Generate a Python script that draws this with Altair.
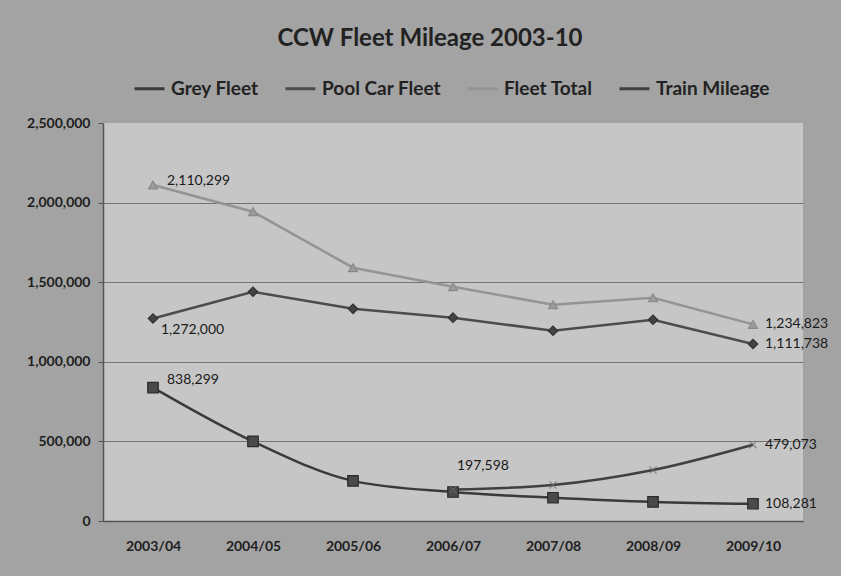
import altair as alt
import pandas as pd

years = ["2003/04", "2004/05", "2005/06", "2006/07", "2007/08", "2008/09", "2009/10"]
grey_fleet = [838299, 500000, 252000, 182000, 146000, 120000, 108281]
pool_car_fleet = [1272000, 1440000, 1333000, 1277000, 1195000, 1264000, 1111738]
fleet_total = [2110299, 1943000, 1591000, 1472000, 1358000, 1402000, 1234823]
train_mileage = [None, None, None, 197598, 226000, 320000, 479073]

series_names = ["Grey Fleet", "Pool Car Fleet", "Fleet Total", "Train Mileage"]
series_colors = ["#3a3a3a", "#4c4c4c", "#949494", "#404040"]
y_ticks = [0, 500000, 1000000, 1500000, 2000000, 2500000]

rows = []
for name, vals in zip(series_names, [grey_fleet, pool_car_fleet, fleet_total, train_mileage]):
    for yr, v in zip(years, vals):
        if v is not None:
            rows.append({"series": name, "year": yr, "value": v, "label": f"{v:,}"})
df = pd.DataFrame(rows)

FONT = "Lato"

x_enc = alt.X("year:N", sort=years, title=None,
              scale=alt.Scale(type="point", padding=0.5),
              axis=alt.Axis(labelFont=FONT, labelFontSize=14, labelFontWeight="bold",
                            labelColor="#1e1e1e", labelPadding=18, ticks=False,
                            domainColor="#555555", domainWidth=1.5, labelAngle=0))
y_enc = alt.Y("value:Q", title=None,
              scale=alt.Scale(domain=[0, 2500000], nice=False),
              axis=alt.Axis(values=y_ticks, format=",.0f", formatType="number", labelFont=FONT,
                            labelFontSize=14, labelFontWeight="bold", labelColor="#1e1e1e",
                            labelPadding=8, tickSize=5, tickColor="#555555", domainColor="#555555",
                            domainWidth=1.5, gridColor="#747474", gridWidth=1,
                            gridOpacity=alt.condition("datum.value == 2500000", alt.value(0), alt.value(1))))
color_enc = alt.Color("series:N", sort=series_names,
                      scale=alt.Scale(domain=series_names, range=series_colors),
                      legend=alt.Legend(orient="none", direction="horizontal", legendX=30, legendY=-51,
                                        title=None, symbolType="stroke", symbolSize=900,
                                        symbolStrokeWidth=3, labelFont=FONT, labelFontSize=19,
                                        labelFontWeight="bold", labelColor="#222222",
                                        columnPadding=20, labelOffset=5))

base = alt.Chart(df)

lines_straight = base.transform_filter(
    alt.FieldOneOfPredicate(field="series", oneOf=["Pool Car Fleet", "Fleet Total"])
).mark_line(strokeWidth=2.5).encode(x=x_enc, y=y_enc, color=color_enc)

lines_smooth = base.transform_filter(
    alt.FieldOneOfPredicate(field="series", oneOf=["Grey Fleet", "Train Mileage"])
).mark_line(strokeWidth=2.5, interpolate="monotone").encode(x=x_enc, y=y_enc, color=color_enc)

def pts(series, shape, size, fill, stroke):
    return base.transform_filter(alt.datum.series == series).mark_point(
        shape=shape, size=size, filled=True, fill=fill,
        stroke=stroke, strokeWidth=1.2, opacity=1
    ).encode(x=x_enc, y=y_enc)

p_grey = pts("Grey Fleet", "square", 110, "#4a4a4a", "#2a2a2a")
p_pool = pts("Pool Car Fleet", "diamond", 90, "#444444", "#333333")
p_total = pts("Fleet Total", "triangle-up", 80, "#9c9c9c", "#8a8a8a")
p_train = base.transform_filter(alt.datum.series == "Train Mileage").mark_point(
    shape="M-1,-1L1,1M-1,1L1,-1", size=50, filled=False, stroke="#6a6a6a", strokeWidth=1.2
).encode(x=x_enc, y=y_enc)

def lab(series, year, dx, dy):
    return base.transform_filter(
        (alt.datum.series == series) & (alt.datum.year == year)
    ).mark_text(align="left", baseline="middle", dx=dx, dy=dy, font=FONT, fontSize=14,
                color="#1a1a1a").encode(x=x_enc, y=y_enc, text="label:N")

labels = [
    lab("Fleet Total", "2003/04", 14, -4),
    lab("Pool Car Fleet", "2003/04", 8, 12),
    lab("Grey Fleet", "2003/04", 14, -8),
    lab("Train Mileage", "2006/07", 4, -24),
    lab("Fleet Total", "2009/10", 12, 0),
    lab("Pool Car Fleet", "2009/10", 12, 0),
    lab("Train Mileage", "2009/10", 12, 0),
    lab("Grey Fleet", "2009/10", 12, 0),
]

chart = alt.layer(
    lines_straight, lines_smooth, p_total, p_pool, p_grey, p_train, *labels
).properties(
    width=700, height=398,
    padding={"left": 103, "top": 123, "right": 38, "bottom": 55},
    autosize=alt.AutoSizeParams(type="none"),
    background="#a3a3a3",
    title=alt.TitleParams(text="CCW Fleet Mileage 2003-10", font=FONT, fontSize=24,
                          fontWeight="bold", color="#222222", anchor="middle", dx=-23, offset=21),
).configure_view(fill="#c6c6c6", strokeWidth=0)

chart.save("out.html", embed_options={"renderer": "svg", "actions": False})
